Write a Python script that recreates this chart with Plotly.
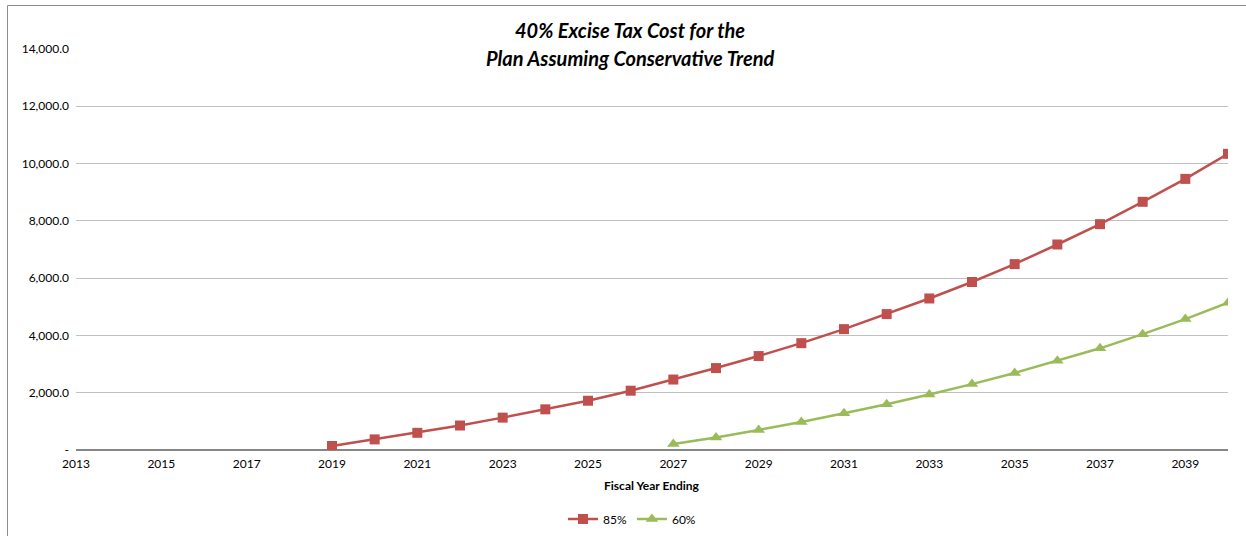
import plotly.graph_objects as go

# Fiscal years shown on the category axis
years = list(range(2013, 2041))

# Excise tax cost (thousands) under each threshold scenario
years_85 = list(range(2019, 2041))
cost_85 = [140, 370, 600, 855, 1130, 1420, 1720, 2070, 2460, 2860, 3280, 3730,
           4220, 4745, 5290, 5865, 6490, 7175, 7885, 8665, 9465, 10340]

years_60 = list(range(2027, 2041))
cost_60 = [210, 440, 700, 975, 1280, 1595, 1940, 2300, 2690, 3115, 3550, 4045,
           4570, 5140]

# Axis ticks
x_ticks = list(range(2013, 2041, 2))
y_ticks = [0, 2000, 4000, 6000, 8000, 10000, 12000, 14000]
y_tick_text = ["-", "2,000.0", "4,000.0", "6,000.0", "8,000.0", "10,000.0",
               "12,000.0", "14,000.0"]

FONT = "Lato, 'Open Sans', Arial, sans-serif"

fig = go.Figure()
fig.add_trace(go.Scatter(
    x=years_85, y=cost_85, name="85%", mode="lines+markers",
    line=dict(color="#c0504d", width=2.5),
    marker=dict(symbol="square", size=10, color="#c0504d"),
))
fig.add_trace(go.Scatter(
    x=years_60, y=cost_60, name="60%", mode="lines+markers",
    line=dict(color="#9bbb59", width=2.5),
    marker=dict(symbol="triangle-up", size=11, color="#9bbb59"),
))

L, R, T, B = 76, 18, 49, 86
W, H = 1246, 536
pw, ph = W - L - R, H - T - B


def px_x(x):
    return (x - L) / pw


def px_y(y):
    return (T + ph - y) / ph


fig.update_layout(
    width=W, height=H,
    margin=dict(l=L, r=R, t=T, b=B, autoexpand=False),
    paper_bgcolor="white", plot_bgcolor="white",
    font=dict(family=FONT, size=12, color="#000000"),
    showlegend=True,
    legend=dict(
        orientation="h", x=px_x(632), xanchor="center",
        y=px_y(519), yanchor="middle",
        font=dict(family=FONT, size=12), bgcolor="rgba(0,0,0,0)",
        tracegroupgap=0,
    ),
    annotations=[
        dict(text="<b><i>40% Excise Tax Cost for the</i></b>", xref="paper", yref="paper",
             x=px_x(630), y=px_y(30), xanchor="center", yanchor="middle",
             showarrow=False, font=dict(family=FONT, size=20)),
        dict(text="<b><i>Plan Assuming Conservative Trend</i></b>", xref="paper", yref="paper",
             x=px_x(630), y=px_y(58), xanchor="center", yanchor="middle",
             showarrow=False, font=dict(family=FONT, size=20)),
        dict(text="<b>Fiscal Year Ending</b>", xref="paper", yref="paper",
             x=px_x(652), y=px_y(485), xanchor="center", yanchor="middle",
             showarrow=False, font=dict(family=FONT, size=12)),
    ],
    shapes=[
        dict(type="line", xref="paper", yref="paper",
             x0=px_x(7.5), x1=px_x(7.5), y0=px_y(5.5), y1=px_y(H),
             line=dict(color="#8c8c8c", width=1)),
        dict(type="line", xref="paper", yref="paper",
             x0=px_x(7.5), x1=px_x(W), y0=px_y(5.5), y1=px_y(5.5),
             line=dict(color="#8c8c8c", width=1)),
    ],
)

fig.update_xaxes(
    range=[2013, 2040], tickvals=x_ticks, ticktext=[str(v) for v in x_ticks],
    showgrid=False, zeroline=False, showline=False, ticks="",
    ticklabelstandoff=5,
    tickfont=dict(family=FONT, size=12), automargin=False,
)
fig.update_yaxes(
    range=[0, 14000], tickvals=y_ticks, ticktext=y_tick_text,
    showgrid=True, gridcolor="#c0c0c0", gridwidth=1,
    zeroline=True, zerolinecolor="#868686", zerolinewidth=1.5,
    showline=False, ticks="", ticklabelstandoff=6,
    tickfont=dict(family=FONT, size=12), automargin=False,
)

fig.write_html("out.html")
